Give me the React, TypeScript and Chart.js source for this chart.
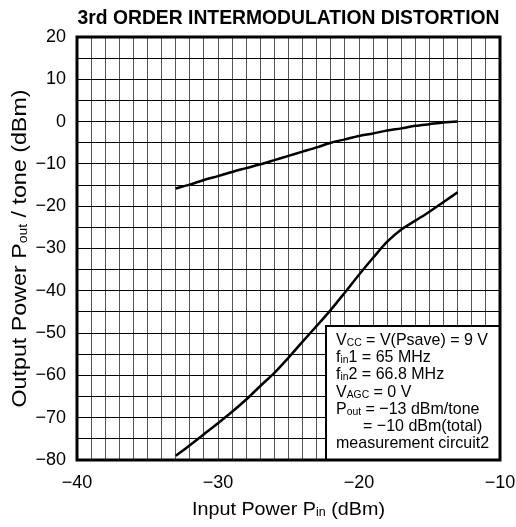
import React, { useEffect, useRef } from "react";
import { Chart, registerables } from "chart.js";
Chart.register(...registerables);

const inputPower = [-33, -32, -31, -30, -29, -28, -27, -26, -25, -24, -23, -22, -21, -20, -19, -18, -17, -16, -15, -14, -13];
const fundamental = [-15.8, -14.9, -13.8, -12.9, -11.9, -11, -10.1, -9.1, -8.1, -7.1, -6.1, -5, -4.2, -3.4, -2.8, -2.1, -1.6, -1, -0.6, -0.2, 0];
const im3 = [-79, -76.5, -73.9, -71.3, -68.6, -65.7, -62.5, -59.4, -55.8, -52, -48.3, -44.5, -40.4, -36.2, -32.2, -28.4, -25.5, -23.4, -21.3, -19, -16.7];

const xMin = -40, xMax = -10, xStep = 1, xLabelEvery = 10;
const yMin = -80, yMax = 20, yStep = 5, yLabelEvery = 10;

const titleText = "3rd ORDER INTERMODULATION DISTORTION";
type Seg = [string, boolean?];
const xTitle: Seg[] = [["Input Power P"], ["in", true], [" (dBm)"]];
const yTitle: Seg[] = [["Output Power P"], ["out", true], [" / tone (dBm)"]];
const legendLines: Seg[][] = [
  [["V"], ["CC", true], [" = V(Psave) = 9 V"]],
  [["f"], ["in", true], ["1 = 65 MHz"]],
  [["f"], ["in", true], ["2 = 66.8 MHz"]],
  [["V"], ["AGC", true], [" = 0 V"]],
  [["P"], ["out", true], [" = \u221213 dBm/tone"]],
  [["= \u221210 dBm(total)"]],
  [["measurement circuit2"]],
];

const FONT = '"Liberation Sans", Arial, Helvetica, sans-serif';
const fmt = (v: number) => (v < 0 ? "\u2212" + Math.abs(v) : String(v));

function richWidth(ctx: CanvasRenderingContext2D, segs: Seg[], size: number) {
  let w = 0;
  for (const [t, s] of segs) {
    ctx.font = `${s ? Math.round(size * 0.62) : size}px ${FONT}`;
    w += ctx.measureText(t).width;
  }
  return w;
}
function drawRich(ctx: CanvasRenderingContext2D, segs: Seg[], x: number, y: number, size: number, sx = 1) {
  ctx.save();
  ctx.translate(x, y);
  ctx.scale(sx, 1);
  let cx = 0;
  for (const [t, s] of segs) {
    ctx.font = `${s ? Math.round(size * 0.62) : size}px ${FONT}`;
    ctx.fillText(t, cx, s ? 1 : 0);
    cx += ctx.measureText(t).width;
  }
  ctx.restore();
}

const decor = {
  id: "decor",
  afterDraw(chart: any) {
    const ctx: CanvasRenderingContext2D = chart.ctx;
    const a = chart.chartArea;
    const cxm = (a.left + a.right) / 2;
    const cym = (a.top + a.bottom) / 2;
    ctx.save();
    ctx.fillStyle = "#000";
    ctx.textBaseline = "alphabetic";
    ctx.textAlign = "left";
    // title
    ctx.font = `bold 21px ${FONT}`;
    const tw = ctx.measureText(titleText).width;
    ctx.save();
    ctx.translate(cxm - 211, 24);
    ctx.scale(422 / tw, 1);
    ctx.fillText(titleText, 0, 0);
    ctx.restore();
    // x title
    const xs = 19;
    const xw = richWidth(ctx, xTitle, xs);
    drawRich(ctx, xTitle, cxm - 96.5, 515, xs, 193 / xw);
    // y title
    const ys = 20;
    const yw = richWidth(ctx, yTitle, ys);
    const ylen = 318;
    ctx.save();
    ctx.translate(26, cym);
    ctx.rotate(-Math.PI / 2);
    drawRich(ctx, yTitle, -ylen / 2, 0, ys, ylen / yw);
    ctx.restore();
    // legend box
    const bx = 326, by = 326, bw = a.right - bx, bh = a.bottom - by;
    ctx.fillStyle = "#fff";
    ctx.fillRect(bx, by, bw, bh);
    ctx.strokeStyle = "#000";
    ctx.lineWidth = 2;
    ctx.strokeRect(bx, by, bw, bh);
    ctx.fillStyle = "#000";
    const ls = 17;
    const lsx = 152 / richWidth(ctx, legendLines[0], ls);
    legendLines.forEach((segs, i) => {
      const indent = i === 5 ? 27 : 0;
      drawRich(ctx, segs, 336 + indent, 345 + i * 17.2, ls, lsx);
    });
    // frame
    ctx.lineWidth = 3;
    ctx.strokeRect(a.left, a.top, a.right - a.left, a.bottom - a.top);
    ctx.restore();
  },
};

export default function App() {
  const ref = useRef<HTMLCanvasElement>(null);
  useEffect(() => {
    const chart = new Chart(ref.current!, {
      type: "line",
      data: {
        datasets: [
          {
            data: inputPower.map((x, i) => ({ x, y: fundamental[i] })),
            borderColor: "#000",
            borderWidth: 2.5,
            pointRadius: 0,
            tension: 0.3,
          },
          {
            data: inputPower.map((x, i) => ({ x, y: im3[i] })),
            borderColor: "#000",
            borderWidth: 2.5,
            pointRadius: 0,
            tension: 0.3,
          },
        ],
      },
      options: {
        responsive: false,
        animation: false,
        layout: { padding: { top: 37, right: 16, left: 0, bottom: 0 } },
        plugins: { legend: { display: false }, tooltip: { enabled: false }, title: { display: false } },
        scales: {
          x: {
            type: "linear",
            min: xMin,
            max: xMax,
            afterFit: (s: any) => { s.height = 67; s.paddingLeft = 0; s.paddingRight = 0; },
            border: { display: false },
            grid: { color: "#555", lineWidth: 1, drawTicks: false },
            ticks: {
              stepSize: xStep,
              autoSkip: false,
              maxRotation: 0,
              padding: 12,
              color: "#000",
              font: { family: FONT, size: 18 },
              callback: (v: any) => (Number(v) % xLabelEvery === 0 ? fmt(Number(v)) : ""),
            },
          },
          y: {
            type: "linear",
            min: yMin,
            max: yMax,
            afterFit: (s: any) => { s.width = 77; s.paddingTop = 0; s.paddingBottom = 0; },
            border: { display: false },
            grid: { color: "#000", lineWidth: 1, drawTicks: false },
            ticks: {
              stepSize: yStep,
              autoSkip: false,
              padding: 11,
              color: "#000",
              font: { family: FONT, size: 18 },
              callback: (v: any) => (Number(v) % yLabelEvery === 0 ? fmt(Number(v)) : ""),
            },
          },
        },
      },
      plugins: [decor],
    });
    return () => chart.destroy();
  }, []);
  return (
    <canvas
      ref={ref}
      width={516}
      height={527}
      style={{ position: "absolute", left: 0, top: 0, width: 516, height: 527, background: "#fff" }}
    />
  );
}
